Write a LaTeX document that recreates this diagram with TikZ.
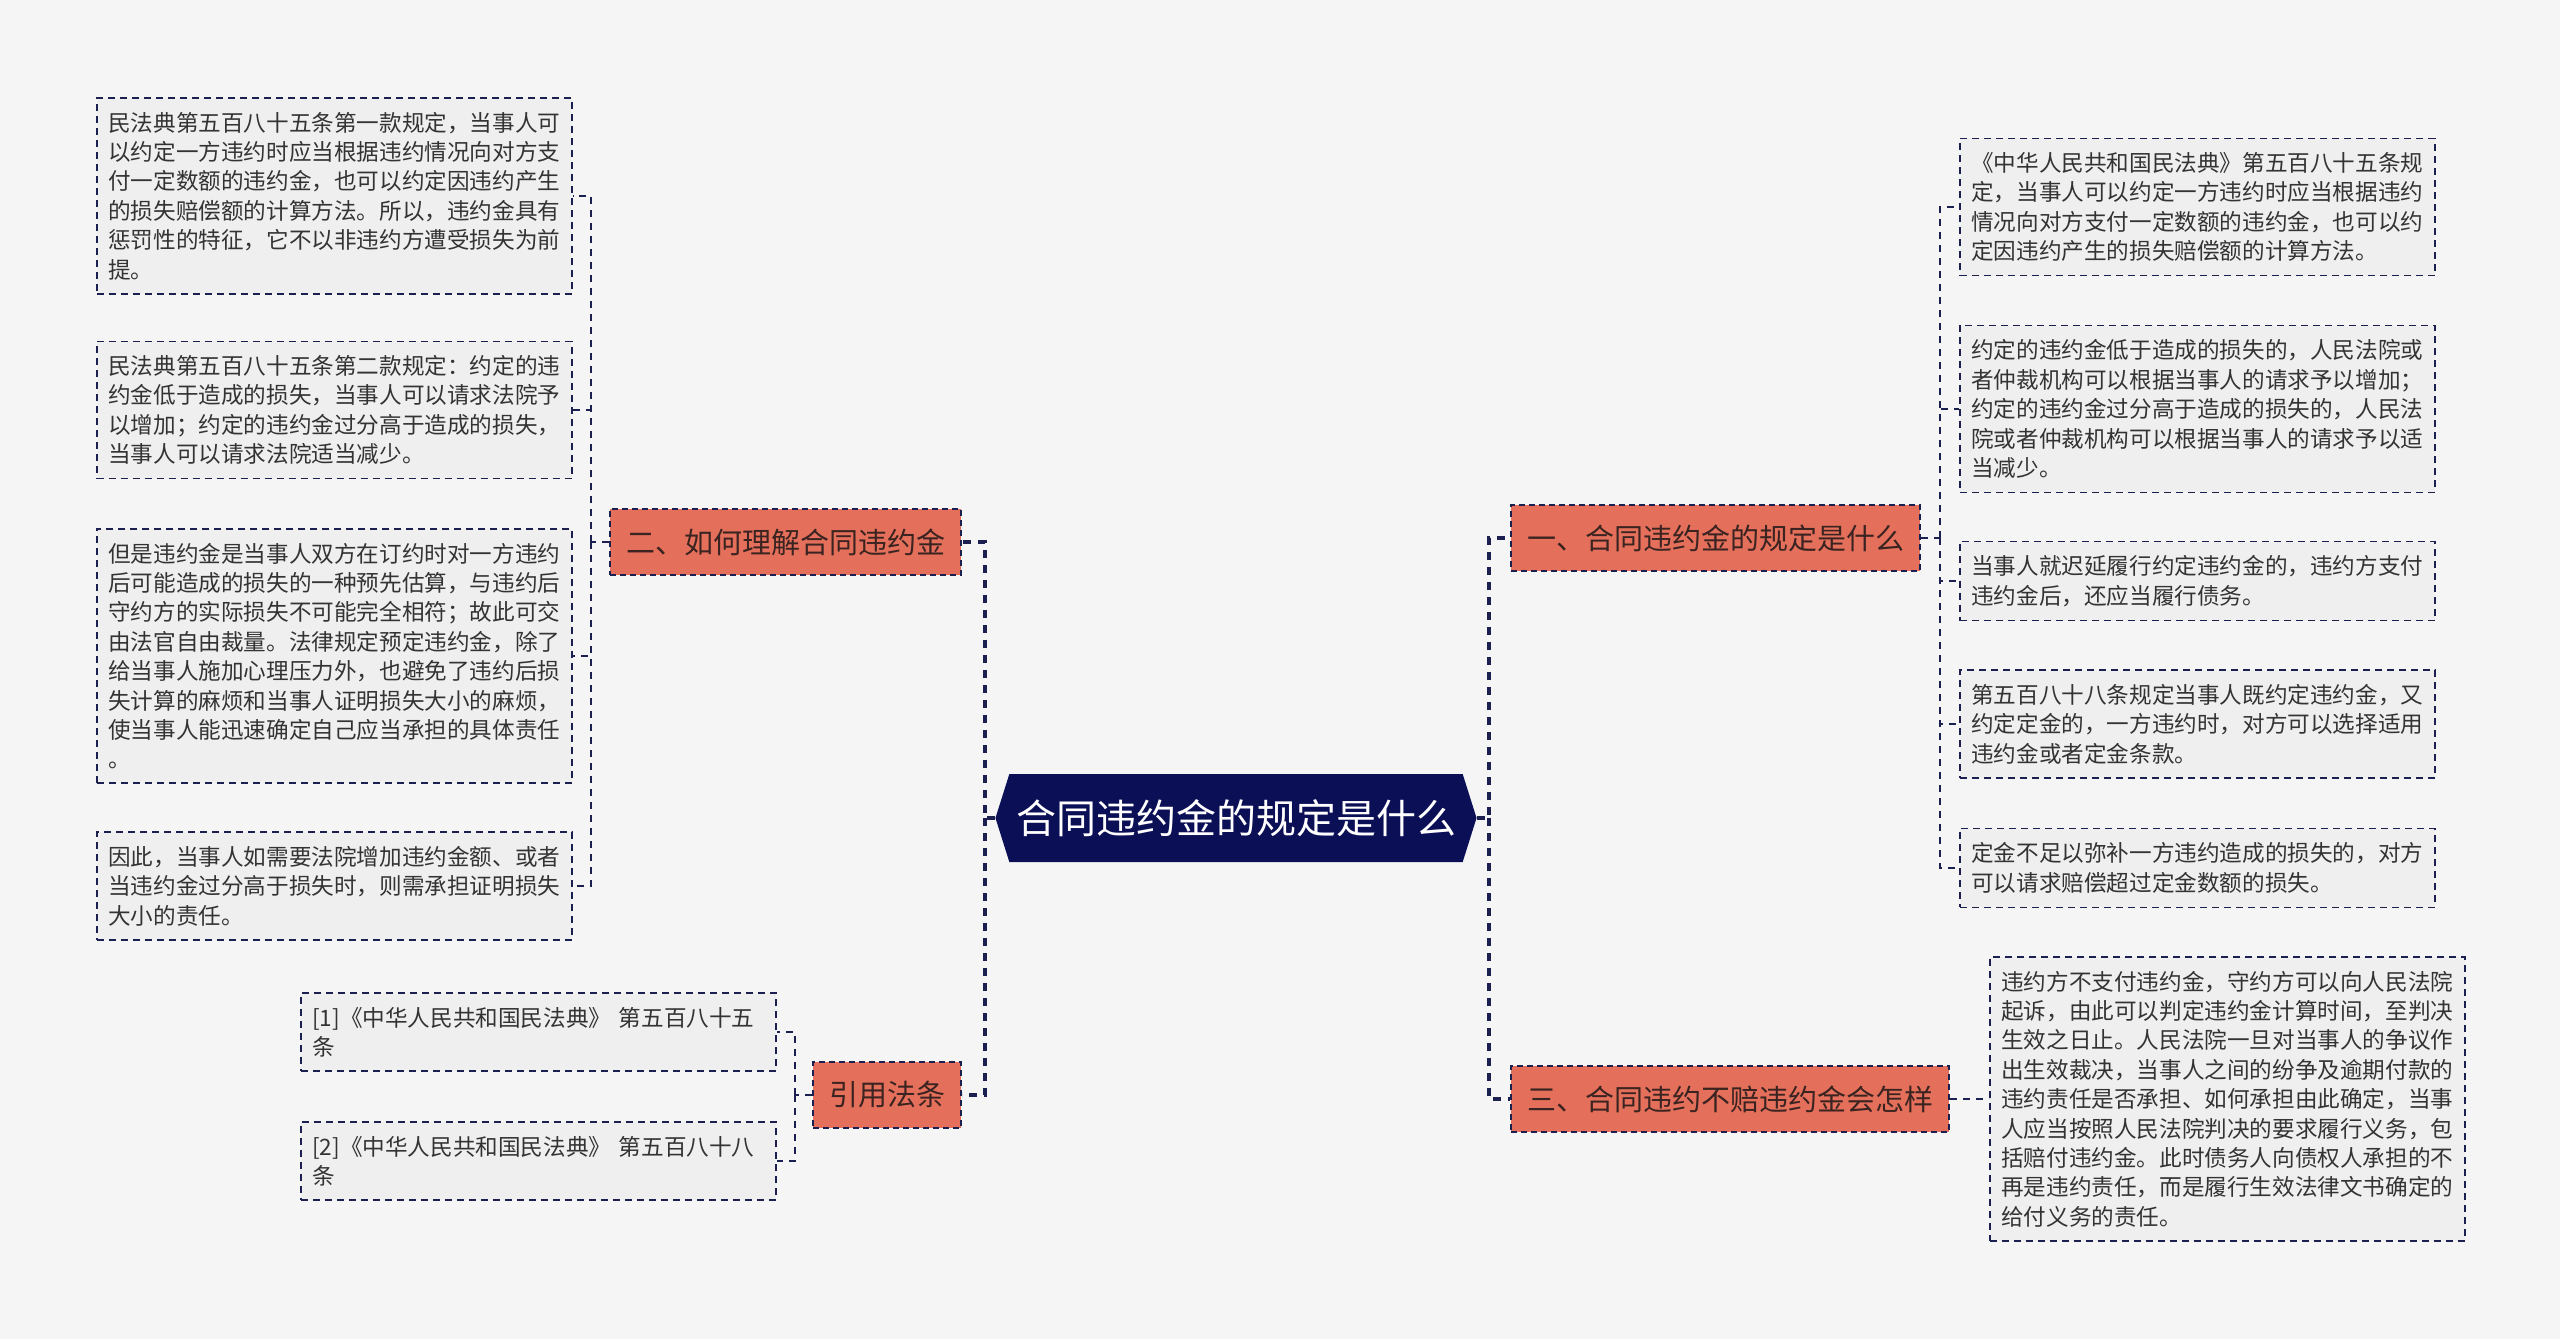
\documentclass[tikz,border=0pt]{standalone}
\usepackage{fontspec}
\setmainfont{Noto Sans CJK SC}
\usepackage{xcolor}
\usetikzlibrary{shapes.symbols}
\definecolor{bgcol}{HTML}{F5F5F5}
\definecolor{leafcol}{HTML}{EFEFEF}
\definecolor{ink}{HTML}{1C2050}
\definecolor{branchcol}{HTML}{E4705B}
\definecolor{branchtxt}{HTML}{3A2320}
\definecolor{navy}{HTML}{0B0F55}
\definecolor{txt}{HTML}{333333}

\begin{document}
\begin{tikzpicture}[x=0.5pt,y=-0.5pt,
  leaf/.style={draw=ink, fill=leafcol, dash pattern=on 3.5pt off 2.5pt, line width=0.75pt, anchor=west, text width=226pt, align=left, inner xsep=5.75pt, inner ysep=7pt, font=\fontsize{11.3}{14.7}\selectfont, text=txt},
  branch/.style={draw=ink, fill=branchcol, dash pattern=on 3pt off 2pt, line width=1pt, minimum height=33pt, inner xsep=8pt, font=\fontsize{14.5}{16}\selectfont, text=branchtxt},
  link/.style={draw=ink, line width=1.6pt, dash pattern=on 4pt off 3.5pt},
  leaflink/.style={draw=ink, line width=0.75pt, dash pattern=on 3.5pt off 3pt}]
\fill[bgcol] (0,0) rectangle (2560,1339);
\useasboundingbox (0,0) rectangle (2560,1339);

% centre and branches
\node[signal, signal to=east and west, signal pointer angle=145, fill=navy, text=white, minimum width=213pt, minimum height=44pt, font=\fontsize{20}{24}\selectfont] (root) at (1236,818) {合同违约金的规定是什么};
\node[branch, anchor=east] (b2) at (962,542) {二、如何理解合同违约金};
\node[branch, anchor=east] (cite) at (962,1095) {引用法条};
\node[branch, anchor=west] (b1) at (1510,538) {一、合同违约金的规定是什么};
\node[branch, anchor=west] (b3) at (1510,1099) {三、合同违约不赔违约金会怎样};

% left leaves
\node[leaf] (l1) at (96,196) {民法典第五百八十五条第一款规定，当事人可\\以约定一方违约时应当根据违约情况向对方支\\付一定数额的违约金，也可以约定因违约产生\\的损失赔偿额的计算方法。所以，违约金具有\\惩罚性的特征，它不以非违约方遭受损失为前\\提。};
\node[leaf] (l2) at (96,410) {民法典第五百八十五条第二款规定：约定的违\\约金低于造成的损失，当事人可以请求法院予\\以增加；约定的违约金过分高于造成的损失，\\当事人可以请求法院适当减少。};
\node[leaf] (l3) at (96,656) {但是违约金是当事人双方在订约时对一方违约\\后可能造成的损失的一种预先估算，与违约后\\守约方的实际损失不可能完全相符；故此可交\\由法官自由裁量。法律规定预定违约金，除了\\给当事人施加心理压力外，也避免了违约后损\\失计算的麻烦和当事人证明损失大小的麻烦，\\使当事人能迅速确定自己应当承担的具体责任\\。};
\node[leaf] (l4) at (96,886) {因此，当事人如需要法院增加违约金额、或者\\当违约金过分高于损失时，则需承担证明损失\\大小的责任。};
\node[leaf] (c1) at (300,1032) {[1]《中华人民共和国民法典》 第五百八十五\\条};
\node[leaf] (c2) at (300,1161) {[2]《中华人民共和国民法典》 第五百八十八\\条};

% right leaves
\node[leaf] (r1) at (1959,207) {《中华人民共和国民法典》第五百八十五条规\\定，当事人可以约定一方违约时应当根据违约\\情况向对方支付一定数额的违约金，也可以约\\定因违约产生的损失赔偿额的计算方法。};
\node[leaf] (r2) at (1959,409) {约定的违约金低于造成的损失的，人民法院或\\者仲裁机构可以根据当事人的请求予以增加；\\约定的违约金过分高于造成的损失的，人民法\\院或者仲裁机构可以根据当事人的请求予以适\\当减少。};
\node[leaf] (r3) at (1959,581) {当事人就迟延履行约定违约金的，违约方支付\\违约金后，还应当履行债务。};
\node[leaf] (r4) at (1959,724) {第五百八十八条规定当事人既约定违约金，又\\约定定金的，一方违约时，对方可以选择适用\\违约金或者定金条款。};
\node[leaf] (r5) at (1959,868) {定金不足以弥补一方违约造成的损失的，对方\\可以请求赔偿超过定金数额的损失。};
\node[leaf] (r6) at (1989,1099) {违约方不支付违约金，守约方可以向人民法院\\起诉，由此可以判定违约金计算时间，至判决\\生效之日止。人民法院一旦对当事人的争议作\\出生效裁决，当事人之间的纷争及逾期付款的\\违约责任是否承担、如何承担由此确定，当事\\人应当按照人民法院判决的要求履行义务，包\\括赔付违约金。此时债务人向债权人承担的不\\再是违约责任，而是履行生效法律文书确定的\\给付义务的责任。};

% connectors
\coordinate (lj) at (985,818); \coordinate (rj) at (1489,818);
\draw[link] (root.west) -- (lj) |- (b2.east);
\draw[link] (lj) |- (cite.east);
\draw[link] (root.east) -- (rj) |- (b1.west);
\draw[link] (rj) |- (b3.west);
\coordinate (b2j) at (591,542); \coordinate (b1j) at (1940,538); \coordinate (citej) at (795,1095);
\draw[leaflink] (b2.west) -- (b2j);
\foreach \n in {l1,l2,l3,l4} \draw[leaflink] (b2j) |- (\n.east);
\draw[leaflink] (b1.east) -- (b1j);
\foreach \n in {r1,r2,r3,r4,r5} \draw[leaflink] (b1j) |- (\n.west);
\draw[leaflink] (cite.west) -- (citej);
\foreach \n in {c1,c2} \draw[leaflink] (citej) |- (\n.east);
\draw[leaflink] (b3.east) -- (r6.west);
\end{tikzpicture}
\end{document}
